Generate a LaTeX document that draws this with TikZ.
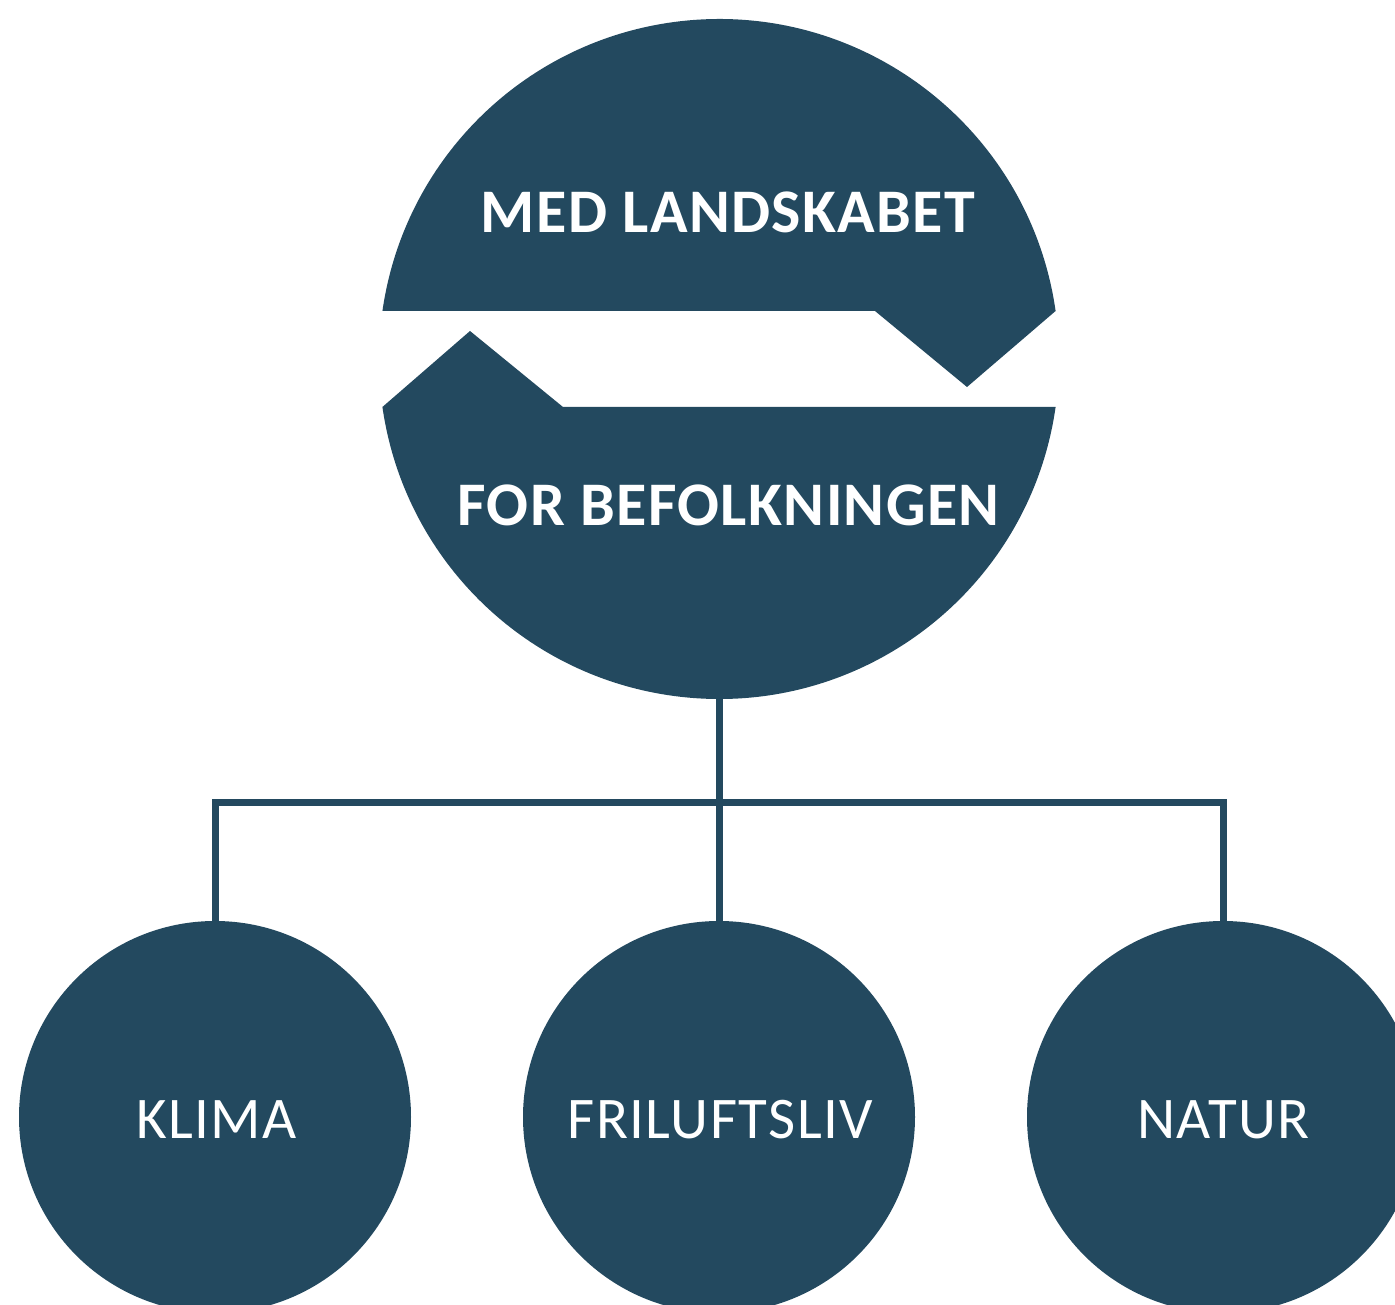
\documentclass[tikz,border=0pt]{standalone}
\usepackage{fontspec}
\setmainfont{Carlito}
\definecolor{navy}{RGB}{35,73,95}
\begin{document}
\begin{tikzpicture}[x=1pt,y=-1pt,
  piece/.style={fill=navy,draw=none},
  toptext/.style={text=white,font=\bfseries\fontsize{62}{62}\selectfont\addfontfeature{LetterSpace=2.2},anchor=base,inner sep=0pt},
  subcircle/.style={circle,fill=navy,draw=none,minimum size=392pt,inner sep=0pt},
  subtext/.style={text=white,font=\fontsize{59}{59}\selectfont\addfontfeature{LetterSpace=2.5},anchor=base,inner sep=0pt},
  link/.style={draw=navy,line width=7pt}]
\useasboundingbox (0,0) rectangle (1395,1305);
\clip (0,0) rectangle (1395,1305);
% top piece
\path[piece] (1055.6,311) arc[start angle=8.12,end angle=171.88,radius=340pt]
  -- (875,311) -- (967,387) -- cycle;
% bottom piece
\path[piece] (382.4,407) -- (470,331) -- (563,407) -- (1055.6,407)
  arc[start angle=-8.12,end angle=-171.88,radius=340pt] -- cycle;
\node[toptext] (med) at (728,233) {MED LANDSKABET};
\node[toptext] (for) at (728.5,525) {FOR BEFOLKNINGEN};
\coordinate (bigbot) at (719,699);
\node[subcircle] (klima) at (215,1117) {};
\node[subcircle] (frilufts) at (719,1117) {};
\node[subcircle] (natur) at (1223,1117) {};
\node[subtext] (klimat) at (216.5,1138) {KLIMA};
\node[subtext] (friluftst) at (720.5,1138) {FRILUFTSLIV};
\node[subtext] (naturt) at (1223.5,1138) {NATUR};
\coordinate (junc) at (719,802);
\draw[link] (klima.north) |- (junc) -| (natur.north);
\draw[link] (bigbot) -- (frilufts.north);
\end{tikzpicture}
\end{document}
